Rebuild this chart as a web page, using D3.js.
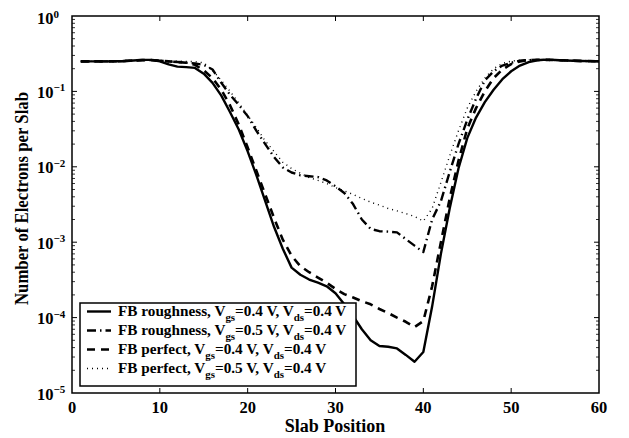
<!DOCTYPE html>
<html lang="en">
<head>
<meta charset="utf-8">
<title>Electrons per slab</title>
<script src="https://d3js.org/d3.v7.min.js"></script>
<style>
  body { margin: 0; background: #fff; }
  svg { display: block; }
  text { font-family: "Liberation Serif", "Times New Roman", serif; font-weight: bold; fill: #000; }
  .tick { font-size: 16.5px; }
  .axlabel { font-size: 18px; }
  .leg { font-size: 14px; }
</style>
</head>
<body>
<svg width="629" height="438"></svg>
<script>
// slab positions and electron counts
const slabPos = [1,2,3,4,5,6,7,8,9,10,11,12,13,14,15,16,17,18,19,20,
  21,22,23,24,25,26,27,28,29,30,31,32,33,34,35,36,37,38,39,40,
  41,42,43,44,45,46,47,48,49,50,51,52,53,54,55,56,57,58,59,60];

const roughVgs04 = [0.250,0.250,0.250,0.250,0.251,0.253,0.257,0.262,0.262,0.250,
  0.228,0.213,0.210,0.205,0.172,0.130,0.088,0.053,0.031,0.016,
  0.0077,0.0035,0.0016,0.00082,0.00046,0.00037,0.00032,0.00029,0.00026,0.00021,
  0.00015,0.000105,0.000070,0.000050,0.000042,0.000041,0.000039,0.000032,0.000026,0.000035,
  0.00014,0.00070,0.0028,0.0095,0.024,0.045,0.072,0.105,0.145,0.185,
  0.220,0.245,0.258,0.264,0.262,0.258,0.255,0.253,0.252,0.251];

const roughVgs05 = [0.250,0.250,0.250,0.250,0.251,0.253,0.257,0.260,0.260,0.255,
  0.250,0.245,0.240,0.235,0.225,0.195,0.130,0.090,0.066,0.047,
  0.030,0.020,0.0135,0.0098,0.0084,0.0077,0.0075,0.0073,0.0066,0.0055,
  0.0045,0.0032,0.0020,0.0015,0.0014,0.00138,0.00135,0.0011,0.0009,0.00074,
  0.0020,0.0035,0.0085,0.020,0.042,0.080,0.140,0.185,0.220,0.240,
  0.255,0.260,0.262,0.262,0.260,0.258,0.255,0.253,0.252,0.251];

const perfVgs04 = [0.250,0.250,0.250,0.250,0.251,0.253,0.257,0.260,0.260,0.255,
  0.250,0.245,0.240,0.225,0.190,0.150,0.105,0.065,0.036,0.018,
  0.0088,0.0043,0.0021,0.00108,0.00066,0.00048,0.00040,0.00034,0.00029,0.00024,
  0.000205,0.000185,0.000165,0.000150,0.000130,0.000115,0.000100,0.000088,0.000075,0.000090,
  0.00026,0.0010,0.0038,0.012,0.032,0.060,0.100,0.150,0.195,0.230,
  0.250,0.260,0.262,0.262,0.260,0.258,0.255,0.253,0.252,0.251];

const perfVgs05 = [0.250,0.250,0.250,0.250,0.251,0.253,0.257,0.260,0.260,0.258,
  0.255,0.252,0.250,0.248,0.240,0.190,0.140,0.100,0.070,0.048,
  0.033,0.022,0.016,0.0115,0.0095,0.0082,0.0072,0.0066,0.0060,0.0053,
  0.0048,0.0043,0.0038,0.0034,0.0031,0.0028,0.0026,0.0024,0.0022,0.0019,
  0.0028,0.0062,0.014,0.030,0.060,0.100,0.150,0.200,0.235,0.252,
  0.260,0.262,0.262,0.260,0.258,0.256,0.254,0.253,0.252,0.251];

const xTicks = [0,10,20,30,40,50,60];
const yExps = [0,-1,-2,-3,-4,-5];

const seriesList = [
  { name: "FB roughness", vgs: "0.5", values: roughVgs05, dash: "9,4,1.5,4", width: 2.4 },
  { name: "FB perfect", vgs: "0.4", values: perfVgs04, dash: "8,6", width: 2.6 },
  { name: "FB perfect", vgs: "0.5", values: perfVgs05, dash: "1,4", width: 1.4 },
  { name: "FB roughness", vgs: "0.4", values: roughVgs04, dash: null, width: 2.4 }
];
const legendOrder = [3, 0, 1, 2];

const svg = d3.select("svg");
const pL = 72, pR = 599, pT = 16, pB = 393;

const x = d3.scaleLinear().domain([0, 60]).range([pL, pR]);
const y = d3.scaleLog().domain([1e-5, 1]).range([pB, pT]);

// frame
svg.append("rect")
  .attr("x", pL).attr("y", pT)
  .attr("width", pR - pL).attr("height", pB - pT)
  .attr("fill", "none").attr("stroke", "#000").attr("stroke-width", 1.5);

// x ticks (inward, top and bottom)
xTicks.slice(1, -1).forEach(t => {
  svg.append("line").attr("x1", x(t)).attr("x2", x(t)).attr("y1", pB).attr("y2", pB - 5)
    .attr("stroke", "#000").attr("stroke-width", 1);
  svg.append("line").attr("x1", x(t)).attr("x2", x(t)).attr("y1", pT).attr("y2", pT + 5)
    .attr("stroke", "#000").attr("stroke-width", 1);
});
xTicks.forEach(t => {
  svg.append("text").attr("class", "tick")
    .attr("x", x(t)).attr("y", 413)
    .attr("text-anchor", "middle")
    .text(t);
});

// y ticks, major and minor
yExps.forEach(e => {
  const v = Math.pow(10, e);
  if (e !== 0 && e !== -5) {
    [[pL, pL + 5], [pR, pR - 5]].forEach(([a, b]) => {
      svg.append("line").attr("x1", a).attr("x2", b).attr("y1", y(v)).attr("y2", y(v))
        .attr("stroke", "#000").attr("stroke-width", 1);
    });
  }
  if (e < 0) {
    for (let m = 2; m <= 9; m++) {
      const mv = v * m;
      [[pL, pL + 3], [pR, pR - 3]].forEach(([a, b]) => {
        svg.append("line").attr("x1", a).attr("x2", b).attr("y1", y(mv)).attr("y2", y(mv))
          .attr("stroke", "#000").attr("stroke-width", 0.8);
      });
    }
  }
  const lab = svg.append("text").attr("class", "tick")
    .attr("x", 37).attr("y", y(v) + (e === 0 ? 8 : 6.5));
  lab.append("tspan").text("10");
  lab.append("tspan").attr("dy", -6.5).attr("font-size", "11px")
    .text(e === 0 ? "0" : "\u2212" + (-e));
});

// axis labels
svg.append("text").attr("class", "axlabel")
  .attr("x", 335).attr("y", 432)
  .attr("text-anchor", "middle")
  .text("Slab Position");

svg.append("text").attr("class", "axlabel")
  .attr("transform", "translate(28,198.5) rotate(-90)")
  .attr("text-anchor", "middle")
  .attr("textLength", 213)
  .attr("lengthAdjust", "spacingAndGlyphs")
  .text("Number of Electrons per Slab");

// curves
const line = d3.line()
  .x((d, i) => x(slabPos[i]))
  .y(d => y(d));

svg.append("g").selectAll("path")
  .data(seriesList)
  .enter()
  .append("path")
  .attr("d", d => line(d.values))
  .attr("fill", "none")
  .attr("stroke", "#000")
  .attr("stroke-width", d => d.width)
  .attr("stroke-dasharray", d => d.dash)
  .attr("stroke-linejoin", "round");

// legend
const lg = svg.append("g");
lg.append("rect")
  .attr("x", 80).attr("y", 303).attr("width", 276).attr("height", 83)
  .attr("fill", "#fff").attr("stroke", "#000").attr("stroke-width", 1.5);

legendOrder.forEach((si, i) => {
  const s = seriesList[si];
  const base = 316 + i * 19;
  lg.append("line")
    .attr("x1", 87).attr("x2", 111).attr("y1", base - 4.5).attr("y2", base - 4.5)
    .attr("stroke", "#000").attr("stroke-width", s.width)
    .attr("stroke-dasharray", s.dash);
  const t = lg.append("text").attr("class", "leg")
    .attr("transform", "translate(118," + base + ") scale(1.09,1)");
  t.append("tspan").text(s.name + ", V");
  t.append("tspan").attr("dy", 5).attr("font-size", "10px").text("gs");
  t.append("tspan").attr("dy", -5).text("=" + s.vgs + " V, V");
  t.append("tspan").attr("dy", 5).attr("font-size", "10px").text("ds");
  t.append("tspan").attr("dy", -5).text("=0.4 V");
});
</script>
</body>
</html>
